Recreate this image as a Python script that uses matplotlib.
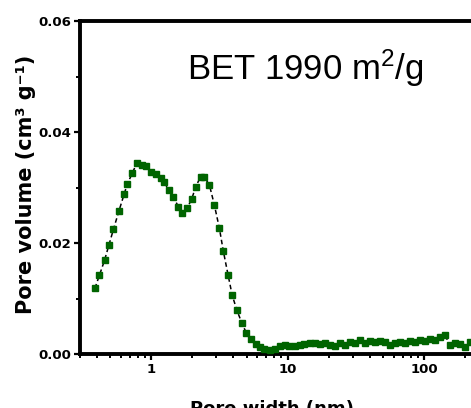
import matplotlib
matplotlib.use("Agg")
import matplotlib.pyplot as plt
from matplotlib.ticker import FixedLocator, LogLocator, NullFormatter, FormatStrFormatter

plt.rcParams["mathtext.fontset"] = "custom"
plt.rcParams["mathtext.rm"] = "Liberation Sans"
plt.rcParams["mathtext.it"] = "Liberation Sans"

# Pore width (nm) and pore volume (cm3/g)
pore_width = [0.386, 0.417, 0.454, 0.489, 0.528, 0.579, 0.633, 0.667, 0.725, 0.785,
              0.849, 0.914, 0.995, 1.075, 1.178, 1.246, 1.34, 1.45, 1.58, 1.68,
              1.83, 1.98, 2.12, 2.30, 2.44, 2.67, 2.90, 3.16, 3.38, 3.66,
              3.92, 4.24, 4.61, 4.97, 5.37, 5.82, 6.29, 6.77, 7.38, 8.02,
              8.73, 9.5, 10.3, 11.3, 12.25, 13.3, 14.5, 15.8, 17.2, 18.7,
              20.4, 22.2, 24.1, 26.2, 28.6, 31.1, 33.8, 36.8, 40.1, 43.6,
              47.5, 51.6, 56.2, 61.2, 66.6, 72.5, 78.9, 85.9, 93.5, 101.7,
              110.7, 120.5, 131.2, 142.7, 155.3, 169.1, 184.0, 200.2, 217.9]
pore_volume = [0.01184, 0.01423, 0.01688, 0.01964, 0.02247, 0.02577, 0.02883, 0.03063, 0.03256, 0.03447,
               0.03411, 0.03387, 0.03279, 0.03243, 0.0318, 0.03094, 0.02955, 0.02834, 0.02654, 0.02546,
               0.02625, 0.02793, 0.03014, 0.03195, 0.03195, 0.03045, 0.0269, 0.02265, 0.0185, 0.01423,
               0.01063, 0.00793, 0.00564, 0.00384, 0.00265, 0.0018, 0.0012, 0.00085, 0.00072, 0.00095,
               0.00144, 0.00157, 0.0015, 0.0015, 0.0016, 0.0018, 0.0019, 0.0019, 0.0018, 0.0019,
               0.0017, 0.0014, 0.0019, 0.0016, 0.0021, 0.0019, 0.0026, 0.0020, 0.0023, 0.0022,
               0.0023, 0.0021, 0.0016, 0.0019, 0.0022, 0.0020, 0.0024, 0.0022, 0.0025, 0.0023,
               0.0027, 0.0025, 0.0031, 0.0034, 0.0016, 0.0019, 0.0018, 0.0012, 0.0021]

y_ticks = [0.00, 0.02, 0.04, 0.06]
y_minor = [0.01, 0.03, 0.05]
x_ticks = [1, 10, 100]
x_ticklabels = ["1", "10", "100"]
annotation = "BET 1990 m$^{2}$/g"
xlabel = "Pore width (nm)"
ylabel = "Pore volume (cm\u00b3 g\u207b\u00b9)"

fig = plt.figure(figsize=(4.71, 4.08), dpi=100)
ax = fig.add_axes([80 / 471, 1 - 354 / 408, 1 - 80 / 471, (354 - 21) / 408])

ax.plot(pore_width, pore_volume, color="black", lw=1.1, ls=(0, (3, 2)), zorder=2)
ax.plot(pore_width, pore_volume, ls="none", marker="s", ms=4.6,
        mfc="#006400", mec="#006400", zorder=3)

ax.set_xscale("log")
ax.set_xlim(0.3, 221.6)
ax.set_ylim(0, 0.06)

ax.xaxis.set_major_locator(FixedLocator(x_ticks))
ax.set_xticklabels(x_ticklabels)
ax.xaxis.set_minor_locator(LogLocator(base=10, subs=range(2, 10)))
ax.xaxis.set_minor_formatter(NullFormatter())
ax.yaxis.set_major_locator(FixedLocator(y_ticks))
ax.yaxis.set_minor_locator(FixedLocator(y_minor))
ax.yaxis.set_major_formatter(FormatStrFormatter("%.2f"))

for s in ["left", "bottom", "top"]:
    ax.spines[s].set_linewidth(2.8)
ax.spines["right"].set_visible(False)

ax.tick_params(which="major", direction="out", length=4.5, width=1.6, pad=2,
               labelsize=9.5, top=False, right=False)
ax.tick_params(which="minor", direction="out", length=3, width=1.4, top=False, right=False)
for lab in ax.get_xticklabels() + ax.get_yticklabels():
    lab.set_fontweight("bold")

ax.set_xlabel(xlabel, fontsize=13, fontweight="bold")
ax.xaxis.set_label_coords(0.49, -0.138)
ax.set_ylabel(ylabel, fontsize=15, fontweight="bold")
ax.yaxis.set_label_coords(-0.112, 0.51)

fig.text(305 / 471, 1 - 80 / 408, annotation, fontsize=25,
         family="Liberation Sans", ha="center", va="baseline")

fig.savefig("out.png", dpi=100)
